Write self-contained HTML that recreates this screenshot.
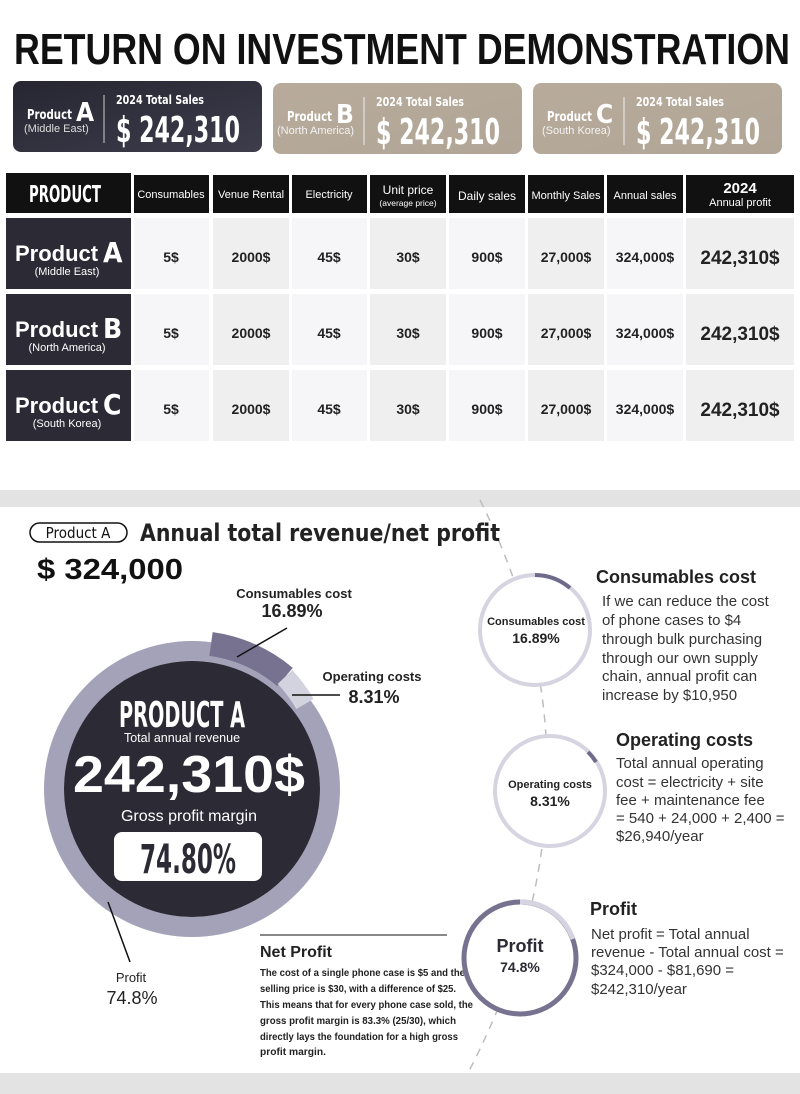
<!DOCTYPE html>
<html><head><meta charset="utf-8"><style>
html,body{margin:0;padding:0;background:#fff}
svg{display:block}
text{font-family:"Liberation Sans",sans-serif}
.n{font-family:"Liberation Sans Narrow","DejaVu Sans Condensed","Liberation Sans",sans-serif}
</style></head><body>
<svg width="800" height="1094" viewBox="0 0 800 1094" xmlns="http://www.w3.org/2000/svg">
<defs>
<linearGradient id="gd" x1="0" y1="0" x2="1" y2="1"><stop offset="0" stop-color="#262531"/><stop offset="1" stop-color="#3e3d4c"/></linearGradient>
<linearGradient id="gt" x1="0" y1="0" x2="1" y2="1"><stop offset="0" stop-color="#b8ab9b"/><stop offset="1" stop-color="#b0a596"/></linearGradient>
</defs>
<text x="14" y="64" font-size="44" font-weight="bold" fill="#111" textLength="776" lengthAdjust="spacingAndGlyphs">RETURN ON INVESTMENT DEMONSTRATION</text>

<!-- cards -->
<g>
<rect x="13" y="81" width="249" height="71" rx="8" fill="url(#gd)"/>
<text x="27" y="119" font-size="13" fill="#fff" class="n" font-weight="bold" textLength="45" lengthAdjust="spacingAndGlyphs">Product</text>
<text x="76" y="121" font-size="26" fill="#fff" class="n" font-weight="bold">A</text>
<text x="24" y="132" font-size="11" fill="#ddd">(Middle East)</text>
<line x1="104" y1="95" x2="104" y2="143" stroke="#ccc"/>
<text x="116" y="104" font-size="12" fill="#fff" class="n" font-weight="bold" textLength="88" lengthAdjust="spacingAndGlyphs">2024 Total Sales</text>
<text x="116" y="142" font-size="36" fill="#fff" class="n" font-weight="bold" textLength="124" lengthAdjust="spacingAndGlyphs">$ 242,310</text>
</g>
<g transform="translate(260,2)">
<rect x="13" y="81" width="249" height="71" rx="8" fill="url(#gt)"/>
<text x="27" y="119" font-size="13" fill="#fff" class="n" font-weight="bold" textLength="45" lengthAdjust="spacingAndGlyphs">Product</text>
<text x="76" y="121" font-size="26" fill="#fff" class="n" font-weight="bold">B</text>
<text x="17" y="132" font-size="11" fill="#f3f3f3">(North America)</text>
<line x1="104" y1="95" x2="104" y2="143" stroke="#eee"/>
<text x="116" y="104" font-size="12" fill="#fff" class="n" font-weight="bold" textLength="88" lengthAdjust="spacingAndGlyphs">2024 Total Sales</text>
<text x="116" y="142" font-size="36" fill="#fff" class="n" font-weight="bold" textLength="124" lengthAdjust="spacingAndGlyphs">$ 242,310</text>
</g>
<g transform="translate(520,2)">
<rect x="13" y="81" width="249" height="71" rx="8" fill="url(#gt)"/>
<text x="27" y="119" font-size="13" fill="#fff" class="n" font-weight="bold" textLength="45" lengthAdjust="spacingAndGlyphs">Product</text>
<text x="76" y="121" font-size="26" fill="#fff" class="n" font-weight="bold">C</text>
<text x="22" y="132" font-size="11" fill="#f3f3f3">(South Korea)</text>
<line x1="104" y1="95" x2="104" y2="143" stroke="#eee"/>
<text x="116" y="104" font-size="12" fill="#fff" class="n" font-weight="bold" textLength="88" lengthAdjust="spacingAndGlyphs">2024 Total Sales</text>
<text x="116" y="142" font-size="36" fill="#fff" class="n" font-weight="bold" textLength="124" lengthAdjust="spacingAndGlyphs">$ 242,310</text>
</g>

<!-- header -->
<g fill="#111">
<rect x="6" y="173" width="125" height="40"/>
<rect x="134" y="175" width="75" height="38"/>
<rect x="213" y="175" width="76" height="38"/>
<rect x="292" y="175" width="75" height="38"/>
<rect x="370" y="175" width="76" height="38"/>
<rect x="449" y="175" width="76" height="38"/>
<rect x="528" y="175" width="76" height="38"/>
<rect x="607" y="175" width="76" height="38"/>
<rect x="686" y="175" width="108" height="38"/>
</g>
<g fill="#fff" text-anchor="middle" font-size="11">
<text x="65" y="202" font-size="23" font-weight="bold" class="n" textLength="72" lengthAdjust="spacingAndGlyphs">PRODUCT</text>
<text x="171" y="198">Consumables</text>
<text x="251" y="198">Venue Rental</text>
<text x="329" y="198">Electricity</text>
<text x="408" y="194" font-size="12">Unit price</text>
<text x="408" y="206" font-size="8.5">(average price)</text>
<text x="487" y="200" font-size="12">Daily sales</text>
<text x="566" y="199">Monthly Sales</text>
<text x="645" y="199">Annual sales</text>
<text x="740" y="193" font-size="15" font-weight="bold">2024</text>
<text x="740" y="206" font-size="11">Annual profit</text>
</g>

<!-- rows -->
<g id="row">
<rect x="6" y="218" width="125" height="71" fill="#2b2a35"/>
<rect x="134" y="218" width="75" height="71" fill="#f6f6f8"/>
<rect x="213" y="218" width="76" height="71" fill="#efefef"/>
<rect x="292" y="218" width="75" height="71" fill="#f6f6f8"/>
<rect x="370" y="218" width="76" height="71" fill="#efefef"/>
<rect x="449" y="218" width="76" height="71" fill="#f6f6f8"/>
<rect x="528" y="218" width="76" height="71" fill="#efefef"/>
<rect x="607" y="218" width="76" height="71" fill="#f6f6f8"/>
<rect x="686" y="218" width="108" height="71" fill="#efefef"/>
<g text-anchor="middle" font-size="14" font-weight="bold" fill="#222">
<text x="171" y="262">5$</text><text x="251" y="262">2000$</text><text x="329" y="262">45$</text>
<text x="408" y="262">30$</text><text x="487" y="262">900$</text><text x="566" y="262">27,000$</text>
<text x="645" y="262">324,000$</text><text x="740" y="264" font-size="19">242,310$</text>
</g>
</g>
<use href="#row" y="76"/>
<use href="#row" y="152"/>
<g fill="#fff" font-weight="bold">
<text x="15" y="261" font-size="22">Product</text><text x="103" y="262" font-size="28" class="n">A</text>
<text x="15" y="337" font-size="22">Product</text><text x="103" y="338" font-size="28" class="n">B</text>
<text x="15" y="413" font-size="22">Product</text><text x="103" y="414" font-size="28" class="n">C</text>
</g>
<g fill="#fff" font-size="11" text-anchor="middle">
<text x="67" y="275">(Middle East)</text>
<text x="67" y="351">(North America)</text>
<text x="67" y="427">(South Korea)</text>
</g>

<!-- bands -->
<rect x="0" y="490" width="800" height="17" fill="#e3e3e3"/>
<rect x="0" y="1073" width="800" height="21" fill="#e3e3e3"/>

<path d="M480,500 Q620,780 468,1073" fill="none" stroke="#bdbdbd" stroke-width="1.5" stroke-dasharray="8 7"/>

<rect x="30" y="523" width="97" height="19" rx="9.5" fill="none" stroke="#111" stroke-width="1.5"/>
<text x="78" y="538" font-size="15" text-anchor="middle" class="n" fill="#111">Product A</text>
<text x="140" y="541" font-size="24" fill="#222" font-weight="bold" class="n" textLength="360" lengthAdjust="spacingAndGlyphs">Annual total revenue/net profit</text>
<text x="37" y="579" font-size="29" font-weight="bold" fill="#111" textLength="146" lengthAdjust="spacingAndGlyphs">$ 324,000</text>

<!-- big donut -->
<circle cx="192" cy="789" r="138" fill="none" stroke="#a4a2b8" stroke-width="20"/>
<circle cx="192" cy="789" r="128" fill="#2b2a35"/>
<path d="M211,644 A146,146 0 0 1 285,677" fill="none" stroke="#76728f" stroke-width="24"/>
<path d="M285,677 A146,146 0 0 1 305,704" fill="none" stroke="#d3d2df" stroke-width="20"/>
<text x="182" y="727" font-size="36" font-weight="bold" class="n" fill="#fff" text-anchor="middle" textLength="126" lengthAdjust="spacingAndGlyphs">PRODUCT A</text>
<text x="182" y="742" font-size="12.5" fill="#fff" text-anchor="middle">Total annual revenue</text>
<text x="189" y="792" font-size="52" font-weight="bold" fill="#fff" text-anchor="middle" textLength="232" lengthAdjust="spacingAndGlyphs">242,310$</text>
<text x="189" y="821" font-size="16" fill="#fff" text-anchor="middle">Gross profit margin</text>
<rect x="114" y="832" width="148" height="49" rx="8" fill="#fff"/>
<text x="188" y="873" font-size="40" font-weight="bold" class="n" fill="#2b2a35" text-anchor="middle" textLength="96" lengthAdjust="spacingAndGlyphs">74.80%</text>

<g stroke="#111" stroke-width="1.5">
<line x1="287" y1="628" x2="237" y2="657"/>
<line x1="292" y1="695" x2="340" y2="695"/>
<line x1="108" y1="902" x2="130" y2="962"/>
</g>
<g text-anchor="middle" fill="#222" font-weight="bold">
<text x="294" y="598" font-size="13">Consumables cost</text>
<text x="292" y="617" font-size="18">16.89%</text>
<text x="372" y="681" font-size="13">Operating costs</text>
<text x="374" y="703" font-size="18">8.31%</text>
<text x="131" y="982" font-size="13" font-weight="normal">Profit</text>
<text x="132" y="1004" font-size="18" font-weight="normal">74.8%</text>
</g>

<!-- net profit -->
<line x1="260" y1="935" x2="447" y2="935" stroke="#111" stroke-width="1"/>
<text x="260" y="957" font-size="16" font-weight="bold" fill="#222">Net Profit</text>
<g font-size="10.5" class="n" fill="#222" font-weight="bold">
<text x="260" y="976" textLength="205" lengthAdjust="spacingAndGlyphs">The cost of a single phone case is $5 and the</text>
<text x="260" y="992" textLength="196" lengthAdjust="spacingAndGlyphs">selling price is $30, with a difference of $25.</text>
<text x="260" y="1008" textLength="213" lengthAdjust="spacingAndGlyphs">This means that for every phone case sold, the</text>
<text x="260" y="1024" textLength="196" lengthAdjust="spacingAndGlyphs">gross profit margin is 83.3% (25/30), which</text>
<text x="260" y="1040" textLength="198" lengthAdjust="spacingAndGlyphs">directly lays the foundation for a high gross</text>
<text x="260" y="1055" textLength="66" lengthAdjust="spacingAndGlyphs">profit margin.</text>
</g>

<!-- small circles -->
<circle cx="535" cy="630" r="55" fill="#fff" stroke="#d5d4e0" stroke-width="4"/>
<path d="M535,575 A55,55 0 0 1 570,588" fill="none" stroke="#6e6a8a" stroke-width="4"/>
<text x="536" y="625" font-size="11" font-weight="bold" text-anchor="middle" fill="#222">Consumables cost</text>
<text x="536" y="643" font-size="14" font-weight="bold" text-anchor="middle" fill="#222">16.89%</text>

<circle cx="550" cy="791" r="55" fill="#fff" stroke="#d5d4e0" stroke-width="4"/>
<path d="M588,752 A55,55 0 0 1 596,762" fill="none" stroke="#6e6a8a" stroke-width="4"/>
<text x="550" y="788" font-size="11" font-weight="bold" text-anchor="middle" fill="#222">Operating costs</text>
<text x="550" y="806" font-size="14" font-weight="bold" text-anchor="middle" fill="#222">8.31%</text>

<circle cx="520" cy="958" r="56" fill="#fff" stroke="#76728f" stroke-width="5"/>
<path d="M520,902 A56,56 0 0 1 573,939" fill="none" stroke="#d5d4e0" stroke-width="5"/>
<text x="520" y="952" font-size="18" font-weight="bold" text-anchor="middle" fill="#2b2a35">Profit</text>
<text x="520" y="972" font-size="14" font-weight="bold" text-anchor="middle" fill="#2b2a35">74.8%</text>

<!-- right texts -->
<g fill="#222">
<text x="596" y="583" font-size="18" font-weight="bold">Consumables cost</text>
<g font-size="15" fill="#333">
<text x="602" y="606">If we can reduce the cost</text>
<text x="602" y="625">of phone cases to $4</text>
<text x="602" y="644">through bulk purchasing</text>
<text x="602" y="663">through our own supply</text>
<text x="602" y="681">chain, annual profit can</text>
<text x="602" y="700">increase by $10,950</text>
</g>
<text x="616" y="746" font-size="18" font-weight="bold">Operating costs</text>
<g font-size="15" fill="#333">
<text x="616" y="768">Total annual operating</text>
<text x="616" y="787">cost = electricity + site</text>
<text x="616" y="805">fee + maintenance fee</text>
<text x="616" y="823">= 540 + 24,000 + 2,400 =</text>
<text x="616" y="841">$26,940/year</text>
</g>
<text x="590" y="915" font-size="18" font-weight="bold">Profit</text>
<g font-size="15" fill="#333">
<text x="591" y="939">Net profit = Total annual</text>
<text x="591" y="957">revenue - Total annual cost =</text>
<text x="591" y="975">$324,000 - $81,690 =</text>
<text x="591" y="994">$242,310/year</text>
</g>
</g>
</svg>
</body></html>
